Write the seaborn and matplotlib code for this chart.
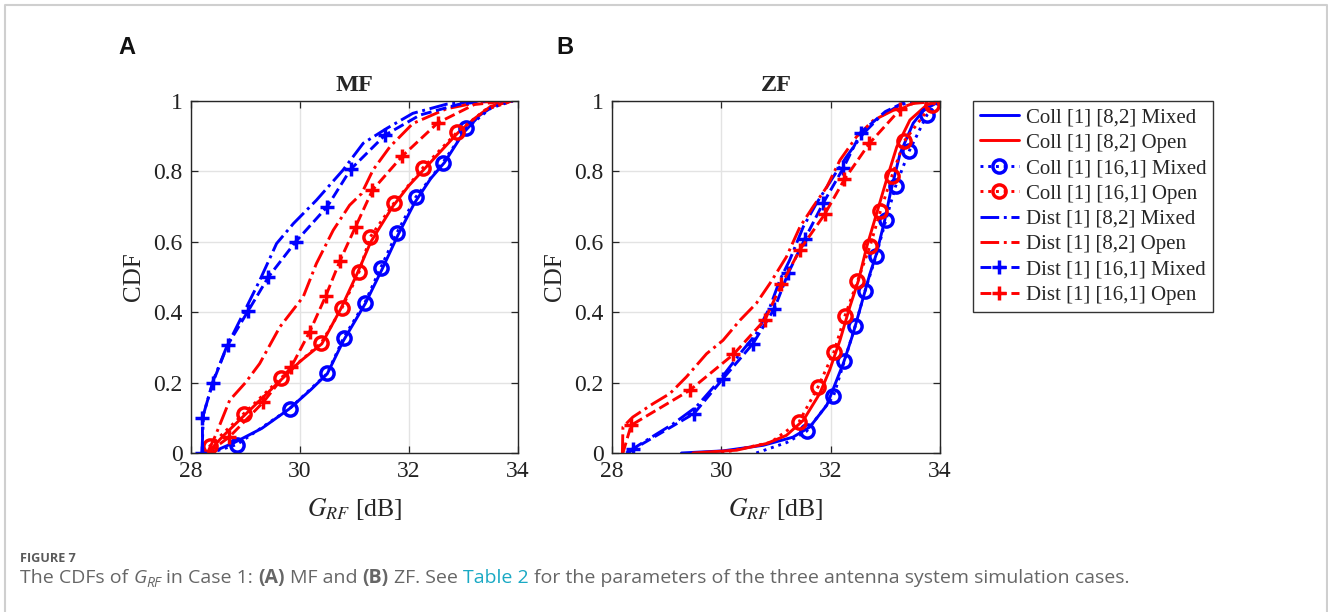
import matplotlib
matplotlib.use("Agg")
import matplotlib.pyplot as plt
from matplotlib.lines import Line2D
import seaborn as sns

W, H = 1328, 612

# ---------------- data ----------------
LABELS = ["Coll [1] [8,2] Mixed", "Coll [1] [8,2] Open",
          "Coll [1] [16,1] Mixed", "Coll [1] [16,1] Open",
          "Dist [1] [8,2] Mixed", "Dist [1] [8,2] Open",
          "Dist [1] [16,1] Mixed", "Dist [1] [16,1] Open"]

# ---- MF panel ----
mf_c82_mix_x = [28.35, 28.8, 29.3, 29.8, 30.2, 30.5, 30.8, 31.2, 31.5, 31.8, 32.1, 32.4, 32.65, 33.0, 33.3, 33.6, 33.9]
mf_c82_mix_p = [0, 0.03, 0.07, 0.125, 0.18, 0.225, 0.32, 0.425, 0.52, 0.62, 0.71, 0.78, 0.825, 0.91, 0.96, 0.99, 1.0]
mf_c82_opn_x = [28.3, 28.6, 29.0, 29.4, 29.7, 30.0, 30.4, 30.75, 31.05, 31.3, 31.7, 32.0, 32.3, 32.6, 32.9, 33.2, 33.5, 33.9]
mf_c82_opn_p = [0, 0.05, 0.11, 0.17, 0.215, 0.26, 0.31, 0.41, 0.51, 0.6, 0.7, 0.76, 0.81, 0.86, 0.91, 0.95, 0.985, 1.0]
mf_c161_mix_x = [28.35, 28.84, 29.81, 30.50, 30.80, 31.19, 31.48, 31.78, 32.12, 32.62, 33.05, 33.5, 33.9]
mf_c161_mix_p = [0, 0.024, 0.126, 0.226, 0.327, 0.427, 0.526, 0.626, 0.726, 0.825, 0.922, 0.98, 1.0]
mf_c161_opn_x = [28.25, 28.34, 28.97, 29.65, 30.39, 30.77, 31.08, 31.29, 31.73, 32.26, 32.88, 33.4, 33.9]
mf_c161_opn_p = [0, 0.019, 0.112, 0.213, 0.313, 0.412, 0.513, 0.614, 0.711, 0.811, 0.911, 0.975, 1.0]
mf_d82_mix_x = [28.2, 28.23, 28.41, 28.65, 29.02, 29.26, 29.57, 29.88, 30.30, 30.79, 31.16, 31.59, 32.07, 32.69, 33.3]
mf_d82_mix_p = [0, 0.11, 0.207, 0.30, 0.415, 0.49, 0.595, 0.652, 0.718, 0.804, 0.88, 0.922, 0.965, 0.991, 1.0]
mf_d82_opn_x = [28.3, 28.45, 28.71, 29.0, 29.26, 29.63, 30.06, 30.30, 30.61, 30.91, 31.13, 31.34, 31.65, 32.07, 32.69, 33.3, 33.9]
mf_d82_opn_p = [0, 0.05, 0.15, 0.2, 0.254, 0.358, 0.444, 0.538, 0.633, 0.704, 0.737, 0.804, 0.87, 0.936, 0.978, 0.997, 1.0]
mf_d161_mix_x = [28.21, 28.21, 28.40, 28.67, 29.05, 29.42, 29.92, 30.50, 30.93, 31.56, 32.2, 32.9, 33.4]
mf_d161_mix_p = [0, 0.10, 0.20, 0.306, 0.404, 0.50, 0.60, 0.70, 0.806, 0.903, 0.96, 0.99, 1.0]
mf_d161_opn_x = [28.3, 28.7, 29.33, 29.84, 30.18, 30.47, 30.73, 31.02, 31.33, 31.88, 32.53, 33.2, 33.8]
mf_d161_opn_p = [0, 0.045, 0.145, 0.245, 0.345, 0.445, 0.545, 0.643, 0.747, 0.844, 0.938, 0.99, 1.0]

# ---- ZF panel ----
zf_c82_mix_x = [29.27, 30.03, 30.77, 31.31, 31.62, 31.93, 32.11, 32.23, 32.41, 32.60, 32.72, 32.84, 32.99, 33.09, 33.27, 33.51, 33.70, 34.0]
zf_c82_mix_p = [0, 0.006, 0.022, 0.045, 0.074, 0.136, 0.207, 0.254, 0.339, 0.444, 0.51, 0.567, 0.662, 0.737, 0.851, 0.937, 0.974, 1.0]
zf_c82_opn_x = [29.48, 30.28, 30.83, 31.19, 31.50, 31.80, 31.98, 32.17, 32.35, 32.51, 32.66, 32.84, 33.02, 33.21, 33.45, 33.76, 34.0]
zf_c82_opn_p = [0, 0.008, 0.027, 0.05, 0.093, 0.169, 0.235, 0.32, 0.415, 0.491, 0.586, 0.68, 0.775, 0.87, 0.946, 0.989, 1.0]
zf_c161_mix_x = [30.64, 31.2, 31.56, 32.05, 32.25, 32.45, 32.63, 32.83, 33.01, 33.19, 33.44, 33.76, 34.0]
zf_c161_mix_p = [0, 0.03, 0.062, 0.161, 0.261, 0.361, 0.461, 0.56, 0.662, 0.759, 0.859, 0.96, 1.0]
zf_c161_opn_x = [30.0, 30.9, 31.42, 31.77, 32.06, 32.26, 32.49, 32.72, 32.91, 33.12, 33.35, 33.85, 34.0]
zf_c161_opn_p = [0, 0.03, 0.088, 0.188, 0.287, 0.389, 0.488, 0.588, 0.687, 0.787, 0.887, 0.99, 1.0]
zf_d82_mix_x = [28.26, 28.63, 29.12, 29.54, 29.97, 30.34, 30.64, 30.89, 31.07, 31.25, 31.50, 31.74, 32.05, 32.29, 32.60, 32.90, 33.27, 33.57]
zf_d82_mix_p = [0, 0.036, 0.083, 0.131, 0.207, 0.282, 0.339, 0.415, 0.491, 0.548, 0.643, 0.709, 0.785, 0.842, 0.908, 0.955, 0.989, 1.0]
zf_d82_opn_x = [28.19, 28.20, 28.38, 28.75, 29.06, 29.36, 29.73, 30.03, 30.34, 30.64, 30.89, 31.19, 31.44, 31.68, 31.93, 32.17, 32.47, 32.78, 33.15, 33.51, 34.0]
zf_d82_opn_p = [0, 0.074, 0.102, 0.14, 0.169, 0.216, 0.282, 0.32, 0.377, 0.425, 0.482, 0.557, 0.643, 0.70, 0.756, 0.832, 0.898, 0.945, 0.974, 0.993, 1.0]
zf_d161_mix_x = [28.3, 28.38, 29.50, 30.03, 30.58, 30.97, 31.22, 31.53, 31.86, 32.23, 32.55, 33.0, 33.4]
zf_d161_mix_p = [0, 0.01, 0.112, 0.211, 0.311, 0.41, 0.51, 0.609, 0.709, 0.809, 0.91, 0.97, 1.0]
zf_d161_opn_x = [28.2, 28.35, 29.42, 30.22, 30.80, 31.10, 31.44, 31.89, 32.25, 32.71, 33.27, 33.6]
zf_d161_opn_p = [0, 0.079, 0.178, 0.28, 0.379, 0.479, 0.578, 0.678, 0.777, 0.88, 0.976, 1.0]

X_TICKS = [28, 30, 32, 34]
Y_TICKS = [0, 0.2, 0.4, 0.6, 0.8, 1]
Y_TICKLABELS = ["0", "0.2", "0.4", "0.6", "0.8", "1"]

# ---------------- styling ----------------
BLUE, RED = "#0000FF", "#FF0000"
# (color, linestyle, marker, markevery)
STYLES = [
    (BLUE, "-", None, None),
    (RED, "-", None, None),
    (BLUE, ":", "o", slice(1, 11)),
    (RED, ":", "o", slice(1, 11)),
    (BLUE, "-.", None, None),
    (RED, "-.", None, None),
    (BLUE, "--", "+", slice(0, 10)),
    (RED, "--", "+", slice(1, 11)),
]
MF_DATA = [(mf_c82_mix_x, mf_c82_mix_p), (mf_c82_opn_x, mf_c82_opn_p),
           (mf_c161_mix_x, mf_c161_mix_p), (mf_c161_opn_x, mf_c161_opn_p),
           (mf_d82_mix_x, mf_d82_mix_p), (mf_d82_opn_x, mf_d82_opn_p),
           (mf_d161_mix_x, mf_d161_mix_p), (mf_d161_opn_x, mf_d161_opn_p)]
ZF_DATA = [(zf_c82_mix_x, zf_c82_mix_p), (zf_c82_opn_x, zf_c82_opn_p),
           (zf_c161_mix_x, zf_c161_mix_p), (zf_c161_opn_x, zf_c161_opn_p),
           (zf_d82_mix_x, zf_d82_mix_p), (zf_d82_opn_x, zf_d82_opn_p),
           (zf_d161_mix_x, zf_d161_mix_p), (zf_d161_opn_x, zf_d161_opn_p)]
ZF_MARKEVERY = [None, None, slice(2, 12), slice(2, 12), None, None, slice(1, 11), slice(1, 11)]

LW = 2.1
MS_O, MS_P, MEW = 9.5, 9.5, 2.5

sns.set_style("ticks")
plt.rcParams.update({
    "font.family": ["Liberation Serif", "DejaVu Serif"],
    "mathtext.fontset": "stix",
    "xtick.direction": "in", "ytick.direction": "in",
    "xtick.top": True, "ytick.right": True,
    "xtick.major.size": 5, "ytick.major.size": 5,
    "xtick.major.width": 0.9, "ytick.major.width": 0.9,
    "axes.linewidth": 1.0, "axes.edgecolor": "#262626",
    "xtick.color": "#262626", "ytick.color": "#262626",
    "xtick.labelcolor": "#222222", "ytick.labelcolor": "#222222",
})

fig = plt.figure(figsize=(W / 100, H / 100), dpi=100)
fig.patch.set_facecolor("white")

ax_pos = {"MF": [191 / W, (H - 453) / H, 327 / W, 352 / H],
          "ZF": [612 / W, (H - 453) / H, 328 / W, 352 / H]}


def draw_panel(ax, data, markevery_list, title):
    for (x, p), (c, ls, m, _), me, lab in zip(data, STYLES, markevery_list, LABELS):
        kw = dict(color=c, linestyle=ls, linewidth=LW, sort=False,
                  estimator=None, legend=False, label=lab)
        if m == "o":
            kw.update(marker="o", markevery=me, markersize=MS_O, markeredgewidth=MEW,
                      markerfacecolor="none", markeredgecolor=c)
        elif m == "+":
            kw.update(marker="+", markevery=me, markersize=MS_P, markeredgewidth=MEW,
                      markeredgecolor=c)
        sns.lineplot(x=x, y=p, ax=ax, **kw)
    ax.set_xlim(28, 34)
    ax.set_ylim(0, 1)
    ax.set_xticks(X_TICKS)
    ax.set_xticklabels([str(t) for t in X_TICKS])
    ax.set_yticks(Y_TICKS)
    ax.set_yticklabels(Y_TICKLABELS)
    ax.tick_params(labelsize=17, pad=6)
    ax.grid(True, color="#e3e3e3", linewidth=1.0)
    ax.set_axisbelow(True)
    ax.set_title(title, fontsize=17.5, fontweight="bold", pad=7)
    ax.set_ylabel("CDF", fontsize=18)
    ax.set_xlabel(r"$G_{RF}$ [dB]", fontsize=18.5)
    ax.yaxis.set_label_coords(-0.14, 0.5)
    ax.xaxis.set_label_coords(0.5, -0.122)
    for s in ax.spines.values():
        s.set_visible(True)


ax1 = fig.add_axes(ax_pos["MF"])
draw_panel(ax1, MF_DATA, [s[3] for s in STYLES], "MF")
ax2 = fig.add_axes(ax_pos["ZF"])
draw_panel(ax2, ZF_DATA, ZF_MARKEVERY, "ZF")

handles = []
for (c, ls, m, _) in STYLES:
    if m == "o":
        h = Line2D([], [], color=c, linestyle=ls, linewidth=LW, marker="o", markersize=MS_O,
                   markeredgewidth=MEW, markerfacecolor="none", markeredgecolor=c)
    elif m == "+":
        h = Line2D([], [], color=c, linestyle=ls, linewidth=LW, marker="+", markersize=MS_P,
                   markeredgewidth=MEW, markeredgecolor=c)
    else:
        h = Line2D([], [], color=c, linestyle=ls, linewidth=LW)
    handles.append(h)
leg = fig.legend(handles, LABELS, loc="upper left", bbox_to_anchor=(973 / W, 1 - 101 / H),
                 borderaxespad=0, fontsize=15, frameon=True, fancybox=False, framealpha=1,
                 edgecolor="#333333", handlelength=1.9, handletextpad=0.3,
                 labelspacing=0.28, borderpad=0.32)
leg.get_frame().set_linewidth(1.0)

# panel letters
for lx, letter in [(127, "A"), (565, "B")]:
    fig.text(lx / W, 1 - 47 / H, letter, fontfamily="Liberation Sans", fontweight="bold",
             fontsize=17, ha="center", va="center", color="#111111")

# page border (top, left, right)
bx0, bx1, by = 4.5 / W, 1326.5 / W, 1 - 4.5 / H
fig.add_artist(Line2D([bx0, bx0, bx1, bx1], [-0.05, by, by, -0.05], transform=fig.transFigure,
                      color="#cfcfcf", linewidth=1.5))

# caption
CAP_GRAY = "#666666"
fig.text(20 / W, 1 - 562 / H, "FIGURE 7", fontfamily="Open Sans", fontsize=9.1,
         fontweight="bold", color="#5a5a5a", va="baseline", ha="left")

renderer = fig.canvas.get_renderer()
cap_fs = 14.0


def width_of(s, **kw):
    t = fig.text(0, 0, s, fontsize=kw.pop("fontsize", cap_fs), **kw)
    w = t.get_window_extent(renderer).width
    t.remove()
    return w


space_w = width_of("a a", fontfamily="Open Sans") - width_of("aa", fontfamily="Open Sans")
pieces = [
    ("The CDFs of", {}, 0, True),
    ("G", {"fontstyle": "italic"}, 0, False),
    ("RF", {"fontstyle": "italic", "fontsize": cap_fs * 0.72}, 4.0, True),
    ("in Case 1:", {}, 0, True),
    ("(A)", {"fontweight": "bold"}, 0, True),
    ("MF and", {}, 0, True),
    ("(B)", {"fontweight": "bold"}, 0, True),
    ("ZF. See", {}, 0, True),
    ("Table 2", {"color": "#19a9c4"}, 0, True),
    ("for the parameters of the three antenna system simulation cases.", {}, 0, False),
]
xpos = 20.0
base_y = 583.0
for txt, kw, dy, sp in pieces:
    kw = dict(kw)
    fs = kw.pop("fontsize", cap_fs)
    col = kw.pop("color", CAP_GRAY)
    t = fig.text(xpos / W, 1 - (base_y + dy) / H, txt, fontfamily="Open Sans", fontsize=fs,
                 color=col, va="baseline", ha="left", **kw)
    xpos += t.get_window_extent(renderer).width
    if sp:
        xpos += space_w

fig.savefig("out.png", dpi=100, facecolor="white")
